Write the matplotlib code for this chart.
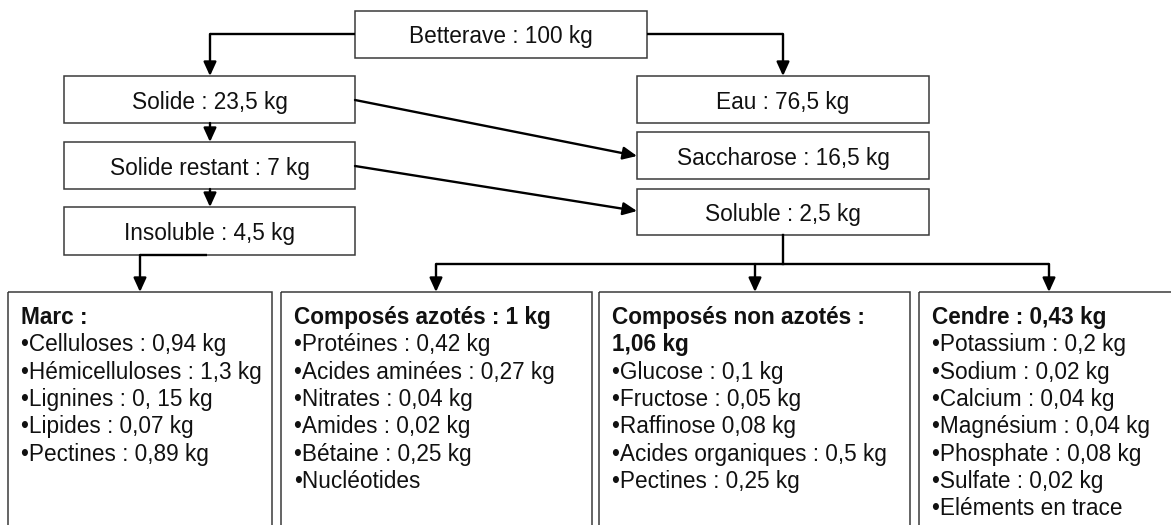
import matplotlib.pyplot as plt
from matplotlib.patches import Rectangle

plt.rcParams['font.family'] = ['Liberation Sans', 'DejaVu Sans']

# upper chain of boxes
top_labels = ['Betterave : 100 kg', 'Solide : 23,5 kg', 'Solide restant : 7 kg',
              'Insoluble : 4,5 kg', 'Eau : 76,5 kg', 'Saccharose : 16,5 kg',
              'Soluble : 2,5 kg']

# lower detail boxes
marc_title = ['Marc :']
marc_items = ['Celluloses : 0,94 kg', 'Hémicelluloses : 1,3 kg', 'Lignines : 0, 15 kg',
              'Lipides : 0,07 kg', 'Pectines : 0,89 kg']
azote_title = ['Composés azotés : 1 kg']
azote_items = ['Protéines : 0,42 kg', 'Acides aminées : 0,27 kg', 'Nitrates : 0,04 kg',
               'Amides : 0,02 kg', 'Bétaine : 0,25 kg', 'Nucléotides']
non_azote_title = ['Composés non azotés :', '1,06 kg']
non_azote_items = ['Glucose : 0,1 kg', 'Fructose : 0,05 kg', 'Raffinose 0,08 kg',
                   'Acides organiques : 0,5 kg', 'Pectines : 0,25 kg']
cendre_title = ['Cendre : 0,43 kg']
cendre_items = ['Potassium : 0,2 kg', 'Sodium : 0,02 kg', 'Calcium : 0,04 kg',
                'Magnésium : 0,04 kg', 'Phosphate : 0,08 kg', 'Sulfate : 0,02 kg',
                'Eléments en trace']

W, H = 1171, 525
fig = plt.figure(figsize=(W / 100, H / 100), dpi=100)
ax = fig.add_axes([0, 0, 1, 1])
ax.set_xlim(0, W)
ax.set_ylim(H, 0)
ax.axis('off')

box_col = '#3a3a3a'
box_lw = 1.1
arr_lw = 1.7
fs = 16.3

# box geometry (x0, y0, x1, y1) in pixels
top_boxes = [(355, 11, 647, 58),
             (64, 76, 355, 123),
             (64, 142, 355, 189),
             (64, 207, 355, 255),
             (637, 76, 929, 123),
             (637, 132, 929, 179),
             (637, 189, 929, 235)]

for (x0, y0, x1, y1), lab in zip(top_boxes, top_labels):
    ax.add_patch(Rectangle((x0, y0), x1 - x0, y1 - y0, fill=False,
                           ec=box_col, lw=box_lw))
    ax.text((x0 + x1) / 2, (y0 + y1) / 2, lab, ha='center', va='center_baseline',
            fontsize=fs, color='#111111')


def arrow(pts):
    xs = [p[0] for p in pts]
    ys = [p[1] for p in pts]
    if len(pts) > 2:
        ax.plot(xs[:-1], ys[:-1], color='black', lw=arr_lw, solid_capstyle='butt',
                solid_joinstyle='miter')
    ax.annotate('', xy=pts[-1], xytext=pts[-2],
                arrowprops=dict(arrowstyle='-|>,head_length=0.7,head_width=0.32',
                                color='black', lw=arr_lw, shrinkA=0, shrinkB=0,
                                mutation_scale=12))


arrow([(355, 34), (210, 34), (210, 76)])
arrow([(647, 34), (783, 34), (783, 76)])
arrow([(210, 123), (210, 142)])
arrow([(210, 189), (210, 207)])
arrow([(355, 100), (637, 156)])
arrow([(355, 166), (637, 211)])
arrow([(207, 255), (140, 255), (140, 292)])

# soluble splits to three boxes
ax.plot([783, 783], [235, 264], color='black', lw=arr_lw)
ax.plot([436, 1049], [264, 264], color='black', lw=arr_lw, solid_capstyle='butt')
for xa in [436, 755, 1049]:
    arrow([(xa, 264), (xa, 292)])

bottom_boxes = [(8, 272), (281, 592), (599, 910), (919, 1175)]
contents = [(marc_title, marc_items), (azote_title, azote_items),
            (non_azote_title, non_azote_items), (cendre_title, cendre_items)]

line_h = 27.3
for (x0, x1), (title, items) in zip(bottom_boxes, contents):
    ax.add_patch(Rectangle((x0, 292), x1 - x0, 260, fill=False, ec=box_col,
                           lw=box_lw, clip_on=True))
    y = 315
    for t in title:
        ax.text(x0 + 13, y, t, ha='left', va='center_baseline', fontsize=fs,
                fontweight='bold', color='#111111')
        y += line_h
    for it in items:
        ax.text(x0 + 13, y, '•' + it, ha='left', va='center_baseline', fontsize=fs,
                color='#111111')
        y += line_h

fig.savefig('out.png', dpi=100)
